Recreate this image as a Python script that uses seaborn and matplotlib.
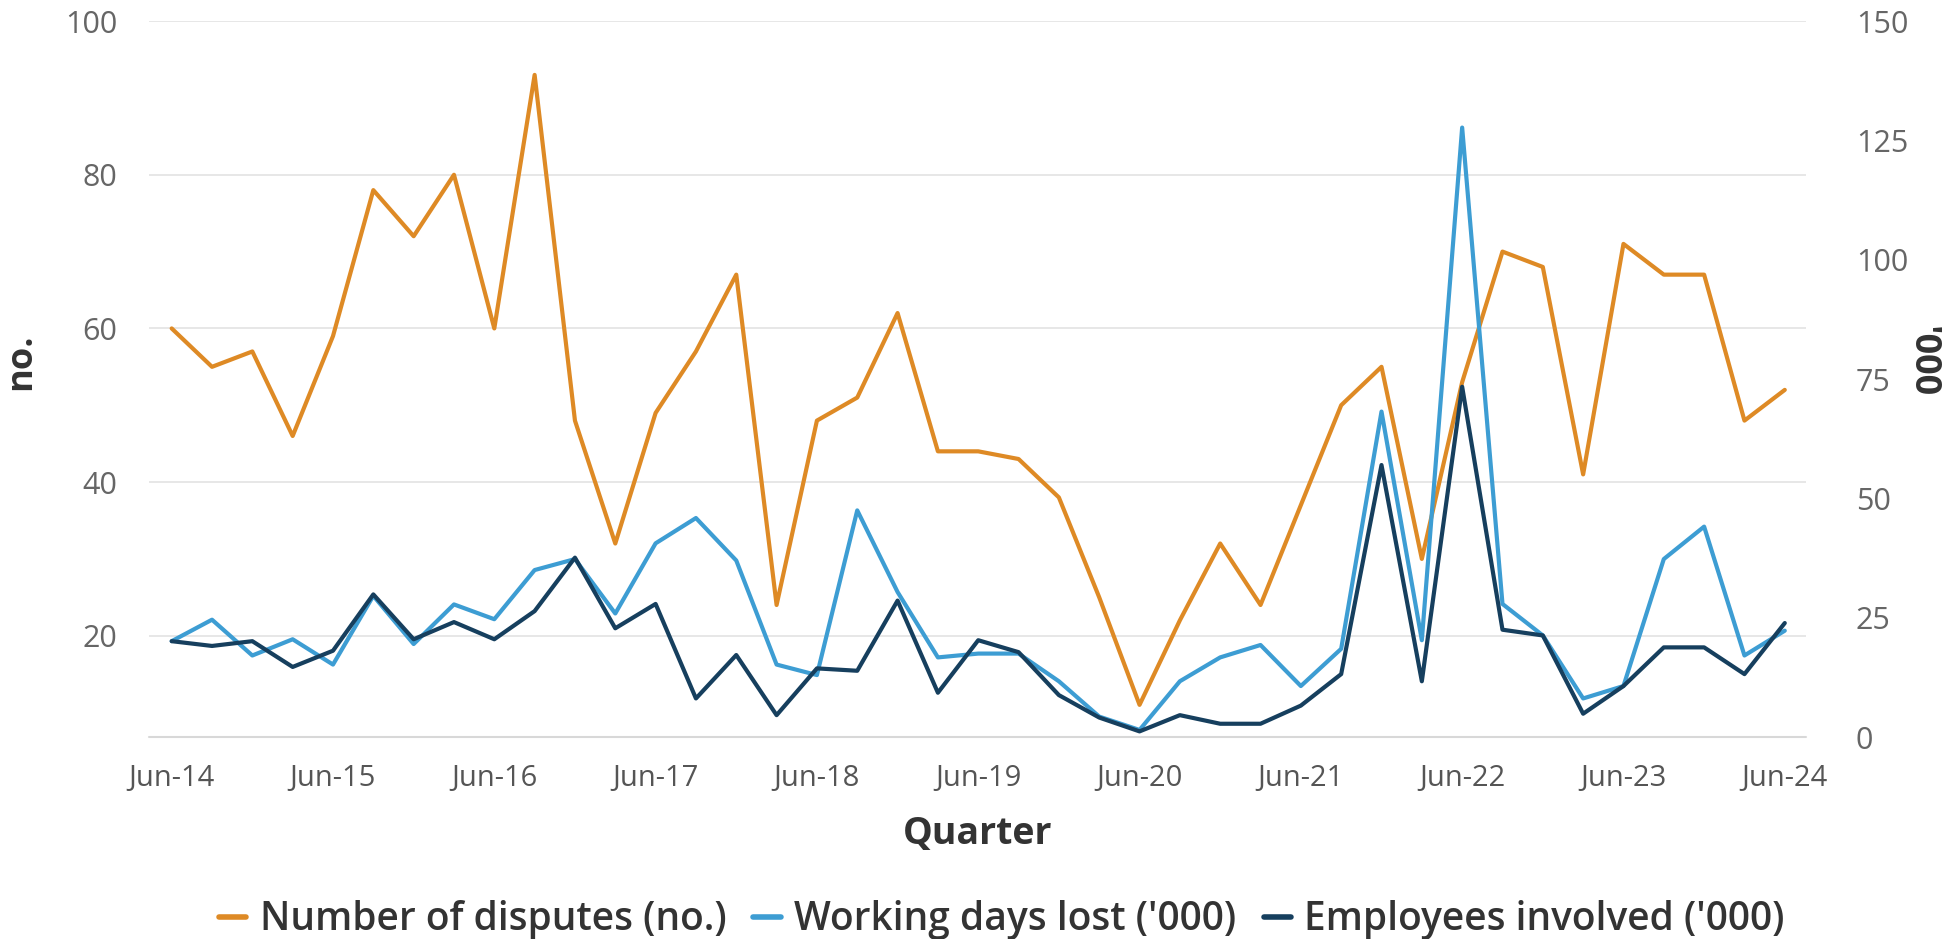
import numpy as np
import pandas as pd
import matplotlib
matplotlib.use("Agg")
import matplotlib.pyplot as plt
import seaborn as sns
from matplotlib.lines import Line2D

# ---------------- data ----------------
months = ["Jun", "Sep", "Dec", "Mar"]
quarters = []
for y in range(14, 25):
    for m in months:
        yy = y if m in ("Jun", "Sep", "Dec") else y + 1
        quarters.append(f"{m}-{yy}")
quarters = quarters[:41]

disputes = [60, 55, 57, 46, 59, 78, 72, 80, 60, 93, 48, 32, 49, 57, 67,
            24, 48, 51, 62, 44, 44, 43, 38, 25, 11, 22, 32, 24, 37, 50,
            55, 30, 53, 70, 68, 41, 71, 67, 67, 48, 52]
working_days = [20.1, 24.6, 17.1, 20.5, 15.2, 29.6, 19.5, 27.8, 24.7, 35.0, 37.3, 25.9, 40.6, 45.9, 37.0,
                15.2, 13.0, 47.5, 30.4, 16.7, 17.5, 17.5, 11.7, 4.3, 1.5, 11.7, 16.7, 19.3, 10.7, 18.5,
                68.2, 20.3, 127.7, 27.9, 21.3, 8.1, 10.7, 37.3, 44.1, 17.1, 22.3]
employees = [20.1, 19.1, 20.1, 14.7, 18.1, 29.9, 20.5, 24.1, 20.5, 26.4, 37.6, 22.8, 27.9, 8.1, 17.2,
             4.6, 14.4, 13.9, 28.6, 9.3, 20.3, 17.8, 8.8, 4.1, 1.2, 4.6, 2.8, 2.8, 6.6, 13.2,
             57.0, 11.7, 73.4, 22.5, 21.3, 4.9, 10.7, 18.8, 18.8, 13.2, 23.9]

tick_labels = ["Jun-14", "Jun-15", "Jun-16", "Jun-17", "Jun-18", "Jun-19",
               "Jun-20", "Jun-21", "Jun-22", "Jun-23", "Jun-24"]
left_ticks = [20, 40, 60, 80, 100]
right_ticks = [0, 25, 50, 75, 100, 125, 150]

series_names = ["Number of disputes (no.)", "Working days lost ('000)", "Employees involved ('000)"]
colors = ["#DE8A25", "#3D9DD3", "#163F5E"]

# ---------------- plotting ----------------
sns.set_theme(style="white")
plt.rcParams['font.family'] = ['Open Sans', 'DejaVu Sans']

fig = plt.figure(figsize=(19.49, 9.39), dpi=100)
ax = fig.add_axes([0.0765, 0.215, 0.85, 0.7625])
ax2 = ax.twinx()

idx = np.arange(len(quarters))
df = pd.DataFrame({"i": idx, "q": quarters, "disputes": disputes,
                   "wdl": working_days, "emp": employees})

sns.lineplot(data=df, x="i", y="disputes", ax=ax, color=colors[0], linewidth=3.0)
sns.lineplot(data=df, x="i", y="wdl", ax=ax2, color=colors[1], linewidth=3.0)
sns.lineplot(data=df, x="i", y="emp", ax=ax2, color=colors[2], linewidth=3.0)

ax.set_xlim(-0.56, 40.52)
ax.set_ylim(6.8, 100)
ax2.set_ylim(0, 150)

ax.set_yticks(left_ticks)
ax.set_yticklabels([str(t) for t in left_ticks])
ax2.set_yticks(right_ticks)
ax2.set_yticklabels([str(t) for t in right_ticks])

ax.set_xticks([quarters.index(t) for t in tick_labels])
ax.set_xticklabels(tick_labels)

ax.grid(axis="y", color="#E3E3E3", linewidth=1.2)
ax.grid(axis="x", visible=False)
ax2.grid(False)

for a in (ax, ax2):
    for s in a.spines.values():
        s.set_visible(False)
ax.axhline(6.8, color="#D8D8D8", linewidth=1.5, clip_on=False)

ax.tick_params(axis="x", labelsize=21, colors="#555555", length=0, pad=19)
ax.tick_params(axis="y", labelsize=22, colors="#666666", length=0, pad=23)
ax2.tick_params(axis="y", labelsize=22, colors="#666666", length=0, pad=36)

ax.set_xlabel("Quarter", fontsize=27, fontweight="bold", color="#333333", labelpad=16)
ax.set_ylabel("no.", fontsize=26, fontweight="bold", color="#333333", va="center")
ax.yaxis.set_label_coords(-0.077, 0.525)
ax2.set_ylabel("'000", fontsize=26, fontweight="bold", color="#333333", rotation=270, va="center")
ax2.yaxis.set_label_coords(1.07, 0.525)

handles = [Line2D([0], [0], color=c, linewidth=4) for c in colors]
fig.legend(handles, series_names, loc="center", bbox_to_anchor=(0.514, 0.02), ncol=3,
           frameon=False, handlelength=0.7, handletextpad=0.35, columnspacing=0.7,
           prop={"weight": "semibold", "size": 28})
for t in fig.legends[0].get_texts():
    t.set_color("#333333")

fig.savefig("out.png", dpi=100)
